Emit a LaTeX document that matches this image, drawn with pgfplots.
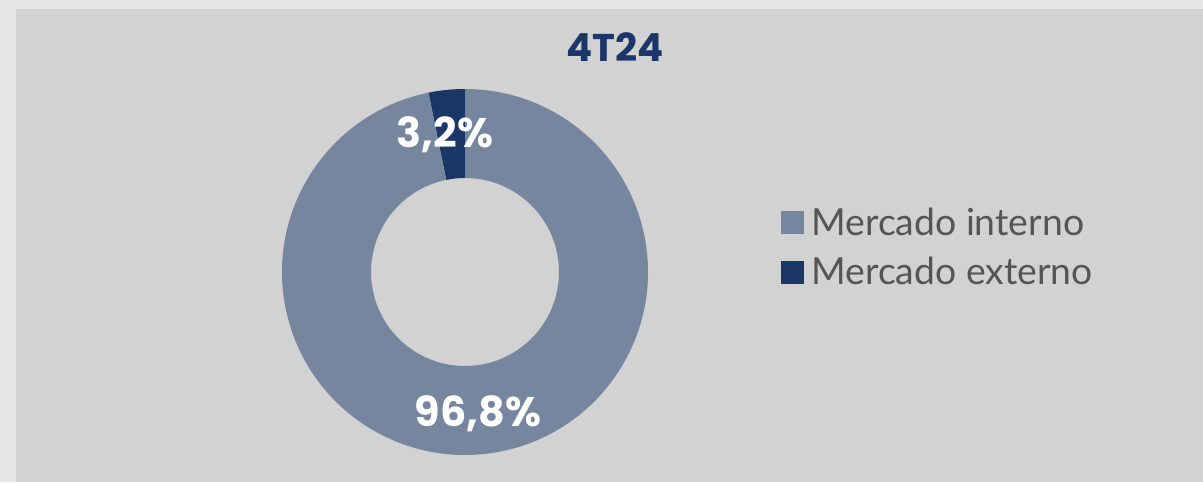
\documentclass[border=0pt]{standalone}
\usepackage{pgfplots}
\pgfplotsset{compat=1.18}
\usepackage{fontspec}
\setmainfont{Lato}
\newfontfamily\popfont{Poppins}

\definecolor{pageback}{HTML}{E6E6E6}
\definecolor{panelback}{HTML}{D2D2D2}
\definecolor{interno}{HTML}{76869F}
\definecolor{externo}{HTML}{1B3768}
\definecolor{legtext}{HTML}{555555}

% shares in percent
\def\interno{96.8}
\def\externo{3.2}
\def\Ro{137.25pt}
\def\Ri{70.5pt}

% ring segment: colour, start angle, end angle
\newcommand\ringpart[3]{%
  \fill[#1] (axis cs:0,0) ++(#2:\Ro) arc[start angle=#2, end angle=#3, radius=\Ro]
    -- ([shift={(#3:\Ri)}]axis cs:0,0) arc[start angle=#3, end angle=#2, radius=\Ri] -- cycle;}

\begin{document}
\begin{tikzpicture}[x=0.75pt, y=0.75pt]
  \fill[pageback] (0,0) rectangle (1203,482);
  \fill[panelback] (16,0) rectangle (1203,473);
  \useasboundingbox (0,0) rectangle (1203,482);

  \pgfmathsetmacro\angA{90}
  \pgfmathsetmacro\angB{90+3.6*\externo}
  \pgfmathsetmacro\angC{\angB+3.6*\interno}

  \begin{axis}[
      at={(211.5pt,20.25pt)}, anchor=south west,
      scale only axis, width=274.5pt, height=274.5pt,
      xmin=-1, xmax=1, ymin=-1, ymax=1,
      hide axis, clip=false,
      legend style={at={(rel axis cs:1.363,0.561)}, anchor=west,
        draw=none, fill=none, inner sep=0pt, outer sep=0pt,
        font=\fontsize{28}{28}\selectfont, text=legtext,
        row sep=16.5pt, column sep=6pt,
        nodes={inner sep=0pt, text height=0.75em, text depth=0.25em}},
      legend cell align=left,
      legend image code/.code={\fill[#1] (0pt,-1pt) rectangle (16.5pt,15.5pt);},
    ]
    \addlegendimage{interno}
    \addlegendentry{Mercado interno}
    \addlegendimage{externo}
    \addlegendentry{Mercado externo}

    \ringpart{externo}{\angA}{\angB}
    \ringpart{interno}{\angB}{\angC}

    \node[anchor=base, text=white, font=\popfont\bfseries\fontsize{31}{31}\selectfont]
      at (axis cs:-0.109,0.678) {3,2\%};
    \node[anchor=base, text=white, font=\popfont\bfseries\fontsize{31}{31}\selectfont]
      at (axis cs:0.071,-0.842) {96,8\%};
  \end{axis}

  \node[anchor=base, text=externo, font=\popfont\bfseries\fontsize{29}{29}\selectfont]
    at (615,420) {4T24};
\end{tikzpicture}
\end{document}
